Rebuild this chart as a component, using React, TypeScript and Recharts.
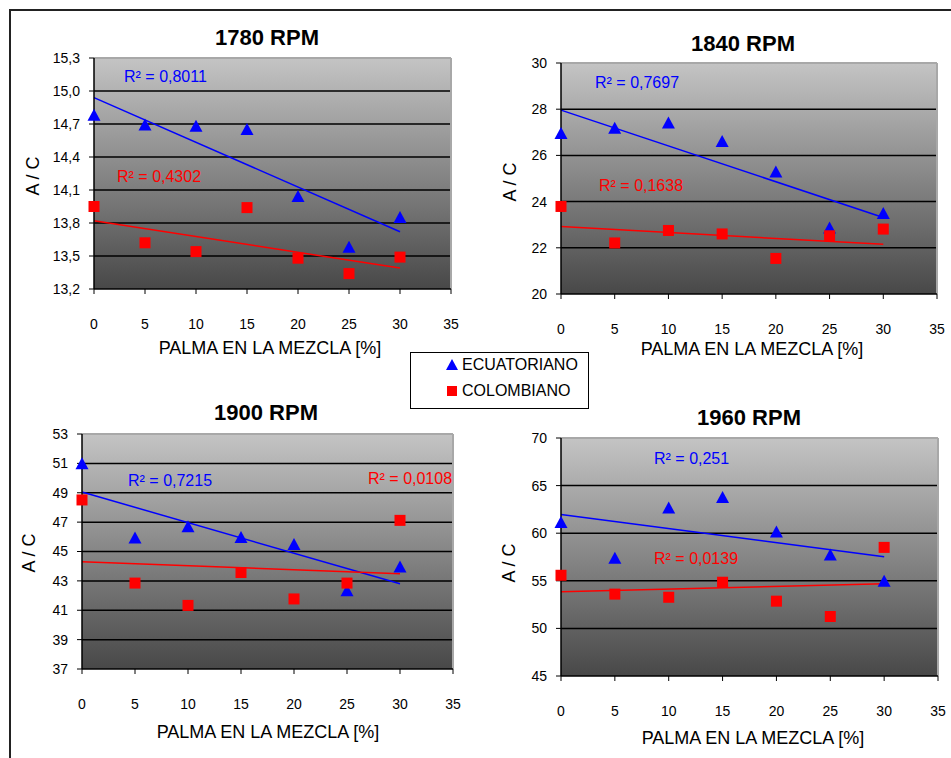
import React from 'react';
import { ComposedChart, Scatter, XAxis, YAxis, CartesianGrid, ReferenceLine } from 'recharts';

// % palma en la mezcla
const palma = [0, 5, 10, 15, 20, 25, 30];
const xTicks = [0, 5, 10, 15, 20, 25, 30, 35];

// A/C values
const ecu1780 = [14.78, 14.69, 14.68, 14.65, 14.04, 13.58, 13.85];
const col1780 = [13.95, 13.62, 13.54, 13.94, 13.48, 13.34, 13.49];
const ecu1840 = [26.95, 27.18, 27.4, 26.6, 25.28, 22.86, 23.49];
const col1840 = [23.79, 22.21, 22.75, 22.6, 21.54, 22.52, 22.81];
const ecu1900 = [50.98, 45.92, 46.69, 45.95, 45.47, 42.33, 43.94];
const col1900 = [48.51, 42.85, 41.33, 43.57, 41.77, 42.85, 47.12];
const ecu1960 = [61.13, 57.37, 62.64, 63.75, 60.12, 57.7, 54.95];
const col1960 = [55.58, 53.6, 53.27, 54.85, 52.86, 51.25, 58.51];

// trend line ends, at 0 % and 30 %
const trendEcu1780 = [14.94, 13.72];
const trendCol1780 = [13.82, 13.39];
const trendEcu1840 = [27.96, 23.31];
const trendCol1840 = [22.92, 22.15];
const trendEcu1900 = [49.05, 42.8];
const trendCol1900 = [44.31, 43.49];
const trendEcu1960 = [61.97, 57.53];
const trendCol1960 = [53.84, 54.68];

const yTicks1780 = [13.2, 13.5, 13.8, 14.1, 14.4, 14.7, 15.0, 15.3];
const yTicks1840 = [20, 22, 24, 26, 28, 30];
const yTicks1900 = [37, 39, 41, 43, 45, 47, 49, 51, 53];
const yTicks1960 = [45, 50, 55, 60, 65, 70];

const r2Ecu = ['0,8011', '0,7697', '0,7215', '0,251'];
const r2Col = ['0,4302', '0,1638', '0,0108', '0,0139'];

const BLUE = '#0000ff';
const RED = '#ff0000';
const FONT = '"Liberation Sans", Arial, sans-serif';

const toPts = (ys: number[]) => palma.map((x, i) => ({ x, y: ys[i] }));

const Triangle = (p: any) => {
  const { cx, cy } = p;
  return <polygon points={`${cx},${cy - 6.5} ${cx + 6.5},${cy + 5.5} ${cx - 6.5},${cy + 5.5}`} fill={BLUE} />;
};
const Square = (p: any) => {
  const { cx, cy } = p;
  return <rect x={cx - 5.5} y={cy - 5.5} width={11} height={11} fill={RED} />;
};

const panels = [
  { id: 'a', title: '1780 RPM', ecu: ecu1780, col: col1780, tE: trendEcu1780, tC: trendCol1780, ticks: yTicks1780, dec: 1,
    L: 94, T: 58, W: 357, H: 241, title_: [267, 38], xl: [270, 348], yl: [33, 176], rE: [124, 78], rC: [117, 178], r: 0 },
  { id: 'b', title: '1840 RPM', ecu: ecu1840, col: col1840, tE: trendEcu1840, tC: trendCol1840, ticks: yTicks1840, dec: 0,
    L: 561, T: 63, W: 376, H: 241, title_: [743, 44], xl: [752, 349], yl: [510, 182], rE: [595, 84], rC: [599, 187], r: 1 },
  { id: 'c', title: '1900 RPM', ecu: ecu1900, col: col1900, tE: trendEcu1900, tC: trendCol1900, ticks: yTicks1900, dec: 0,
    L: 82, T: 434, W: 371, H: 245, title_: [266, 413], xl: [268, 732], yl: [29, 553], rE: [128, 482], rC: [368, 480], r: 2 },
  { id: 'd', title: '1960 RPM', ecu: ecu1960, col: col1960, tE: trendEcu1960, tC: trendCol1960, ticks: yTicks1960, dec: 0,
    L: 561, T: 438, W: 377, H: 248, title_: [749, 418], xl: [753, 738], yl: [509, 563], rE: [654, 460], rC: [654, 560], r: 3 },
];

const Txt = ({ x, y, children, style }: any) => (
  <div style={{ position: 'absolute', left: x, top: y, transform: 'translate(-50%, -50%)', whiteSpace: 'nowrap', fontFamily: FONT, ...style }}>
    {children}
  </div>
);

const Panel = ({ p }: { p: any }) => {
  const lo = p.ticks[0];
  const hi = p.ticks[p.ticks.length - 1];
  const fmt = (v: number) => v.toFixed(p.dec).replace('.', ',');
  return (
    <>
      <div style={{ position: 'absolute', left: p.L - 60, top: p.T - 10 }}>
        <ComposedChart width={p.W + 70} height={p.H + 50} margin={{ top: 10, left: 15, right: 10, bottom: 20 }}>
          <defs>
            <linearGradient id={`bg-${p.id}`} x1="0" y1="0" x2="0" y2="1">
              <stop offset="0%" stopColor="#c4c4c4" />
              <stop offset="100%" stopColor="#484848" />
            </linearGradient>
          </defs>
          <CartesianGrid
            vertical={false}
            horizontalValues={p.ticks.slice(1, -1)}
            stroke="#000"
            strokeWidth={1.5}
            fill={`url(#bg-${p.id})`}
            fillOpacity={1}
          />
          <XAxis
            type="number"
            dataKey="x"
            domain={[0, 35]}
            ticks={xTicks}
            interval={0}
            tickSize={5}
            tickMargin={25}
            axisLine={{ stroke: '#000', strokeWidth: 1.5 }}
            tickLine={{ stroke: '#000' }}
            tick={{ fill: '#000', fontSize: 14, fontFamily: FONT }}
            height={30}
          />
          <YAxis
            type="number"
            dataKey="y"
            domain={[lo, hi]}
            ticks={p.ticks}
            interval={0}
            allowDataOverflow
            width={45}
            tickSize={5}
            tickMargin={9}
            tickFormatter={fmt}
            axisLine={{ stroke: '#000', strokeWidth: 1.5 }}
            tickLine={{ stroke: '#000' }}
            tick={{ fill: '#000', fontSize: 14, fontFamily: FONT }}
          />
          <ReferenceLine y={hi} stroke="#a8a8a8" strokeWidth={2} />
          <ReferenceLine x={35} stroke="#a8a8a8" strokeWidth={2} />
          <ReferenceLine segment={[{ x: 0, y: p.tE[0] }, { x: 30, y: p.tE[1] }]} stroke={BLUE} strokeWidth={1.5} ifOverflow="visible" />
          <ReferenceLine segment={[{ x: 0, y: p.tC[0] }, { x: 30, y: p.tC[1] }]} stroke={RED} strokeWidth={1.5} ifOverflow="visible" />
          <Scatter name="ECUATORIANO" data={toPts(p.ecu)} shape={Triangle} isAnimationActive={false} />
          <Scatter name="COLOMBIANO" data={toPts(p.col)} shape={Square} isAnimationActive={false} />
        </ComposedChart>
      </div>
      <Txt x={p.title_[0]} y={p.title_[1]} style={{ fontSize: 22, fontWeight: 'bold' }}>{p.title}</Txt>
      <Txt x={p.xl[0]} y={p.xl[1]} style={{ fontSize: 18 }}>PALMA EN LA MEZCLA [%]</Txt>
      <Txt x={p.yl[0]} y={p.yl[1]} style={{ fontSize: 18, transform: 'translate(-50%, -50%) rotate(-90deg)' }}>A / C</Txt>
      <div style={{ position: 'absolute', left: p.rE[0], top: p.rE[1] - 10, fontFamily: FONT, fontSize: 16, color: BLUE, whiteSpace: 'nowrap' }}>
        R² = {r2Ecu[p.r]}
      </div>
      <div style={{ position: 'absolute', left: p.rC[0], top: p.rC[1] - 10, fontFamily: FONT, fontSize: 16, color: RED, whiteSpace: 'nowrap' }}>
        R² = {r2Col[p.r]}
      </div>
    </>
  );
};

export default function App() {
  return (
    <div style={{ position: 'absolute', left: 0, top: 0, width: 951, height: 758, background: '#fff', overflow: 'hidden' }}>
      <div style={{ position: 'absolute', left: 10, top: 9, width: 941, height: 2, background: '#222' }} />
      <div style={{ position: 'absolute', left: 9, top: 9, width: 2, height: 749, background: '#222' }} />
      {panels.map((p) => (
        <Panel key={p.id} p={p} />
      ))}
      <div style={{ position: 'absolute', left: 410, top: 352, width: 177, height: 55, border: '1.5px solid #000', background: '#fff', fontFamily: FONT, fontSize: 16 }}>
        <svg width={14} height={14} style={{ position: 'absolute', left: 34, top: 5 }}>
          <polygon points="7,1 13,12 1,12" fill={BLUE} />
        </svg>
        <div style={{ position: 'absolute', left: 51, top: 3 }}>ECUATORIANO</div>
        <svg width={12} height={12} style={{ position: 'absolute', left: 35, top: 32 }}>
          <rect x={1} y={1} width={10} height={10} fill={RED} />
        </svg>
        <div style={{ position: 'absolute', left: 51, top: 29 }}>COLOMBIANO</div>
      </div>
    </div>
  );
}
